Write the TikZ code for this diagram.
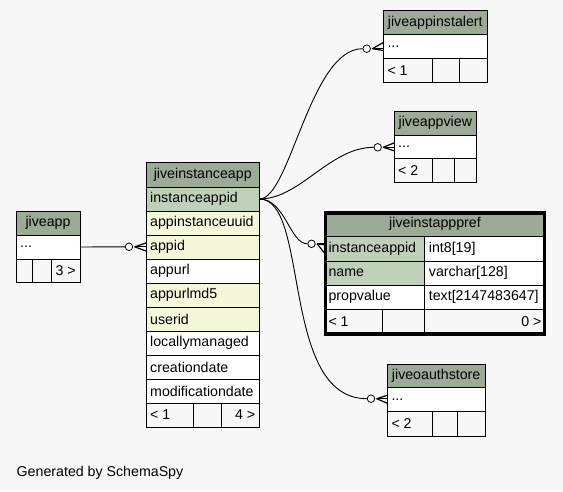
\documentclass[tikz,border=0pt]{standalone}
\usepackage{fontspec}
\setmainfont{Liberation Sans}
\definecolor{bgc}{HTML}{F7F7F7}
\definecolor{hdr}{HTML}{9BAB96}
\definecolor{pkc}{HTML}{BED1B8}
\definecolor{idx}{HTML}{F4F7DA}
\definecolor{ftc}{HTML}{F7F7F7}
\tikzset{
  cellbox/.style={draw=black, line width=0.8pt, anchor=north west, inner sep=0pt, outer sep=0pt},
  lbl/.style={font=\fontsize{14.2}{16}\selectfont, inner xsep=4pt, inner ysep=0pt, text=black},
  lt/.style={label={[lbl,anchor=west]west:{#1}}},
  rt/.style={label={[lbl,anchor=east]east:{#1}}},
  ct/.style={label={[lbl]center:{#1}}},
  nt/.style={},
  circ/.style={circle, draw=black, fill=white, line width=0.8pt, minimum size=7.5pt, inner sep=0pt},
  rel/.style={draw=black, line width=0.9pt},
  crowline/.style={draw=black, line width=1.2pt},
}
\newcommand\cellat[7]{\node[cellbox, fill=#6, minimum width={#4pt-#2pt}, minimum height={#5pt-#3pt}, #7] (#1) at (#2,#3) {};}
\newcommand\crow[2]{%
  \draw[crowline] ([xshift=1.5pt]#1.east) -- ([yshift=4pt]#2.west);
  \draw[crowline] ([xshift=1.5pt]#1.east) -- (#2.west |- #1.east);
  \draw[crowline] ([xshift=1.5pt]#1.east) -- ([yshift=-4pt]#2.west);}
\begin{document}
\begin{tikzpicture}[x=1pt,y=-1pt]
\fill[bgc] (0,0) rectangle (563,491);
\useasboundingbox (0,0) rectangle (563,491);

% jiveapp
\cellat{ja}{16}{211}{80}{235}{hdr}{ct=jiveapp}
\cellat{jadots}{16}{235}{80}{259}{white}{lt=...}
\cellat{jaf1}{16}{259}{32.7}{282.5}{ftc}{nt}
\cellat{jaf2}{32.7}{259}{51}{282.5}{ftc}{nt}
\cellat{jaf3}{51}{259}{80}{282.5}{ftc}{rt=3 >}

% jiveinstanceapp
\cellat{ia}{146}{162.5}{259.5}{187}{hdr}{ct=jiveinstanceapp}
\cellat{iapk}{146}{187}{259.5}{211}{pkc}{lt=instanceappid}
\cellat{iauuid}{146}{211}{259.5}{235}{idx}{lt=appinstanceuuid}
\cellat{iaappid}{146}{235}{259.5}{259}{idx}{lt=appid}
\cellat{iaurl}{146}{259}{259.5}{283}{white}{lt=appurl}
\cellat{iamd}{146}{283}{259.5}{307}{idx}{lt=appurlmd5}
\cellat{iauser}{146}{307}{259.5}{331}{idx}{lt=userid}
\cellat{ialoc}{146}{331}{259.5}{355}{white}{lt=locallymanaged}
\cellat{iacre}{146}{355}{259.5}{379}{white}{lt=creationdate}
\cellat{iamod}{146}{379}{259.5}{403}{white}{lt=modificationdate}
\cellat{iaf1}{146}{403}{193.3}{427}{ftc}{lt=< 1}
\cellat{iaf2}{193.3}{403}{221}{427}{ftc}{nt}
\cellat{iaf3}{221}{403}{259.5}{427}{ftc}{rt=4 >}

% jiveappinstalert
\cellat{al}{383.3}{10.7}{487.3}{34.3}{hdr}{ct=jiveappinstalert}
\cellat{aldots}{383.3}{34.3}{487.3}{58.7}{white}{lt=...}
\cellat{alf1}{383.3}{58.7}{432.7}{82.3}{ftc}{lt=< 1}
\cellat{alf2}{432.7}{58.7}{459.3}{82.3}{ftc}{nt}
\cellat{alf3}{459.3}{58.7}{487.3}{82.3}{ftc}{nt}

% jiveappview
\cellat{av}{394}{111}{476.7}{135}{hdr}{ct=jiveappview}
\cellat{avdots}{394}{135}{476.7}{158.7}{white}{lt=...}
\cellat{avf1}{394}{158.7}{432.7}{182.3}{ftc}{lt=< 2}
\cellat{avf2}{432.7}{158.7}{454}{182.3}{ftc}{nt}
\cellat{avf3}{454}{158.7}{476.7}{182.3}{ftc}{nt}

% jiveinstapppref
\cellat{ip}{324.3}{211.7}{545.7}{236.7}{hdr}{ct=jiveinstapppref}
\cellat{ippk}{324.3}{236.7}{424.7}{261}{pkc}{lt=instanceappid}
\cellat{ippkt}{424.7}{236.7}{545.7}{261}{white}{lt={int8[19]}}
\cellat{ipname}{324.3}{261}{424.7}{285}{pkc}{lt=name}
\cellat{ipnamet}{424.7}{261}{545.7}{285}{white}{lt={varchar[128]}}
\cellat{ipval}{324.3}{285}{424.7}{309}{white}{lt=propvalue}
\cellat{ipvalt}{424.7}{285}{545.7}{309}{white}{lt={text[2147483647]}}
\cellat{ipf1}{324.3}{309}{382}{335}{ftc}{lt=< 1}
\cellat{ipf2}{382}{309}{424.7}{335}{ftc}{nt}
\cellat{ipf3}{424.7}{309}{545.7}{335}{ftc}{rt=0 >}
\node[draw=black, line width=3pt, anchor=north west, inner sep=0pt, outer sep=0pt,
      minimum width=218.4pt, minimum height=120.3pt] (ipframe) at (325.8,213.2) {};

% jiveoauthstore
\cellat{oa}{387.3}{364}{485}{387.3}{hdr}{ct=jiveoauthstore}
\cellat{oadots}{387.3}{387.3}{485}{411.3}{white}{lt=...}
\cellat{oaf1}{387.3}{411.3}{432.7}{436}{ftc}{lt=< 2}
\cellat{oaf2}{432.7}{411.3}{457.7}{436}{ftc}{nt}
\cellat{oaf3}{457.7}{411.3}{485}{436}{ftc}{nt}

% relationships
\node[circ] (c0) at (129,246.8) {};
\draw[rel] (jadots.east) -- (c0.west);
\crow{c0}{iaappid}

\node[circ] (c1) at (366.7,48.7) {};
\draw[rel] (iapk.east) .. controls (290,199) and (310,48.7) .. (c1.west);
\crow{c1}{aldots}

\node[circ] (c2) at (377.7,147.3) {};
\draw[rel] (iapk.east) .. controls (300,199) and (330,147.3) .. (c2.west);
\crow{c2}{avdots}

\node[circ] (c3) at (311.5,243.8) {};
\draw[rel] (iapk.east) .. controls (285,199) and (290,243.8) .. (c3.west);
\crow{c3}{ippk}

\node[circ] (c4) at (371,398.7) {};
\draw[rel] (iapk.east) .. controls (310,199) and (280,398.7) .. (c4.west);
\crow{c4}{oadots}

\node[anchor=base west, font=\fontsize{14.2}{16}\selectfont, inner sep=0pt] (gen) at (16.5,476) {Generated by SchemaSpy};
\end{tikzpicture}
\end{document}
